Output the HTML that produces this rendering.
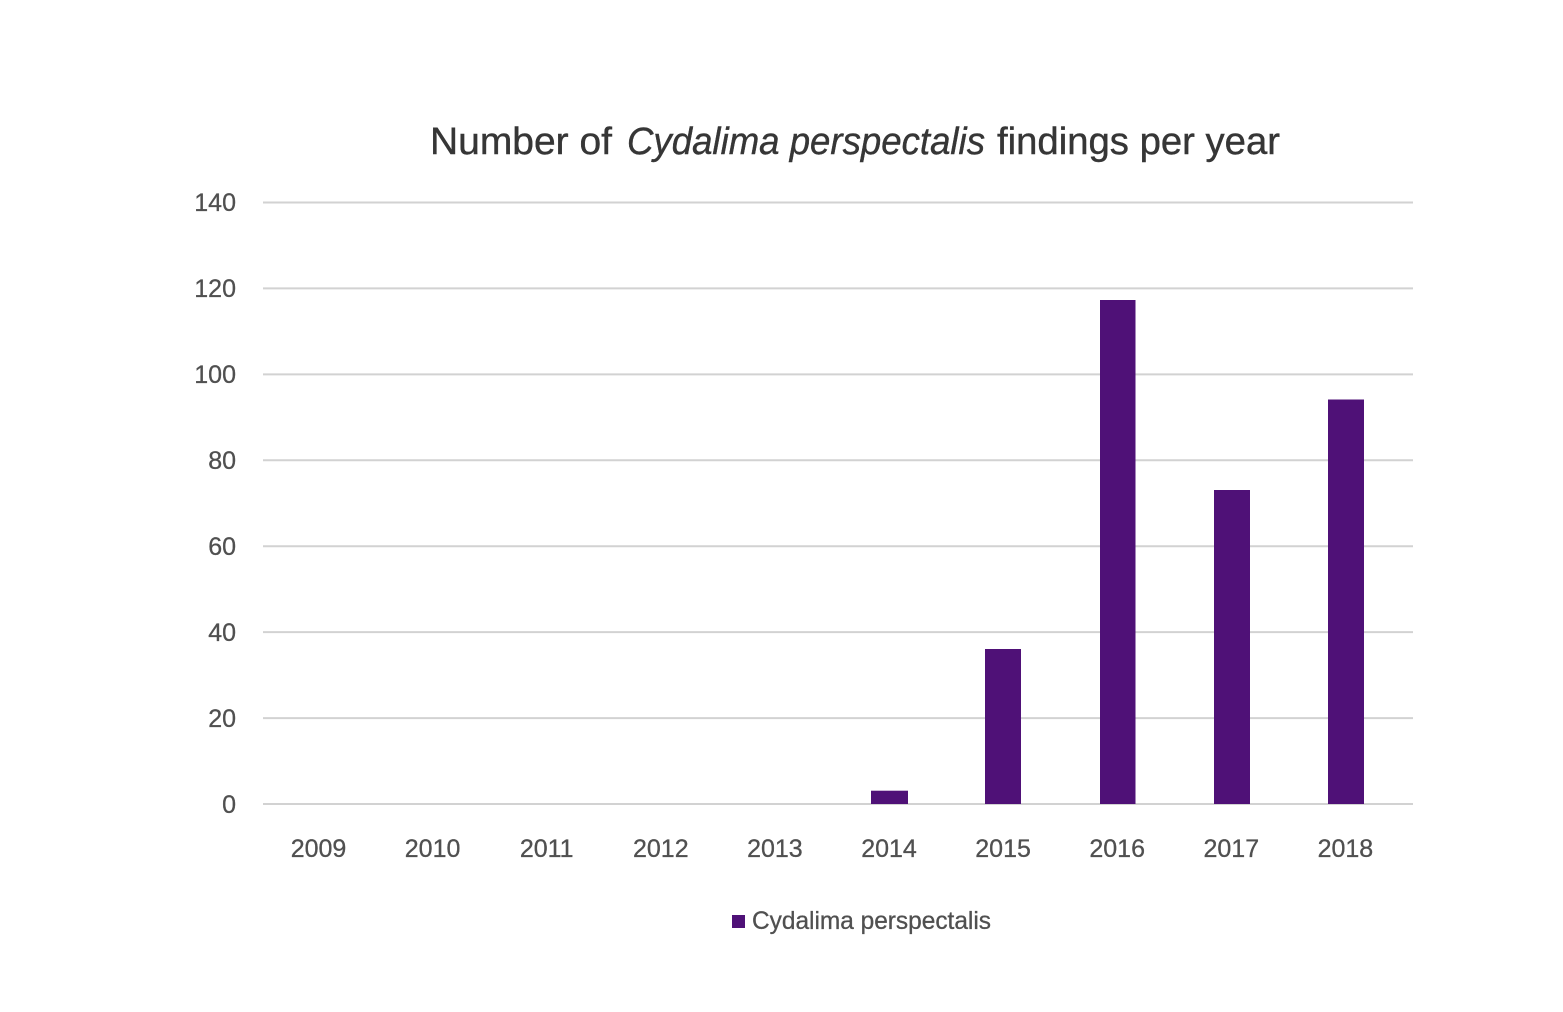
<!DOCTYPE html>
<html>
<head>
<meta charset="utf-8">
<style>
  html, body { margin: 0; padding: 0; background: #ffffff; }
  svg { display: block; }
</style>
</head>
<body>
<svg width="1563" height="1012" viewBox="0 0 1563 1012" xmlns="http://www.w3.org/2000/svg">
  <rect x="0" y="0" width="1563" height="1012" fill="#ffffff"/>

  <!-- Title -->
  <g font-family="'Liberation Sans', 'DejaVu Sans', sans-serif" font-size="38" fill="#363636" stroke="#363636" stroke-width="0.4">
    <text x="430" y="154" textLength="182" lengthAdjust="spacingAndGlyphs">Number of</text>
    <text x="627" y="154" textLength="358" lengthAdjust="spacingAndGlyphs" font-style="italic">Cydalima perspectalis</text>
    <text x="997" y="154" textLength="283" lengthAdjust="spacingAndGlyphs">findings per year</text>
  </g>

  <!-- Gridlines -->
  <g stroke="#d2d2d2" stroke-width="2">
    <line x1="263" y1="202.5" x2="1413" y2="202.5"/>
    <line x1="263" y1="288.4" x2="1413" y2="288.4"/>
    <line x1="263" y1="374.4" x2="1413" y2="374.4"/>
    <line x1="263" y1="460.3" x2="1413" y2="460.3"/>
    <line x1="263" y1="546.2" x2="1413" y2="546.2"/>
    <line x1="263" y1="632.1" x2="1413" y2="632.1"/>
    <line x1="263" y1="718.1" x2="1413" y2="718.1"/>
    <line x1="263" y1="804" x2="1413" y2="804"/>
  </g>

  <!-- Y tick labels -->
  <g font-family="'Liberation Sans', 'DejaVu Sans', sans-serif" font-size="25" fill="#505050" stroke="#505050" stroke-width="0.3" text-anchor="end">
    <text x="236" y="211">140</text>
    <text x="236" y="297">120</text>
    <text x="236" y="383">100</text>
    <text x="236" y="469">80</text>
    <text x="236" y="555">60</text>
    <text x="236" y="641">40</text>
    <text x="236" y="727">20</text>
    <text x="236" y="813">0</text>
  </g>

  <!-- Bars -->
  <g fill="#4f1177">
    <rect x="871" y="790.7" width="37" height="13.3"/>
    <rect x="985" y="649" width="36" height="155"/>
    <rect x="1100" y="300" width="35.5" height="504"/>
    <rect x="1214" y="490" width="36" height="314"/>
    <rect x="1328" y="399.5" width="36" height="404.5"/>
  </g>

  <!-- X labels -->
  <g font-family="'Liberation Sans', 'DejaVu Sans', sans-serif" font-size="25" fill="#505050" stroke="#505050" stroke-width="0.3" text-anchor="middle">
    <text x="318.5" y="857">2009</text>
    <text x="432.6" y="857">2010</text>
    <text x="546.7" y="857">2011</text>
    <text x="660.8" y="857">2012</text>
    <text x="774.9" y="857">2013</text>
    <text x="889" y="857">2014</text>
    <text x="1003.1" y="857">2015</text>
    <text x="1117.2" y="857">2016</text>
    <text x="1231.3" y="857">2017</text>
    <text x="1345.4" y="857">2018</text>
  </g>

  <!-- Legend -->
  <rect x="732" y="915" width="13" height="13" fill="#4f1177"/>
  <text x="752" y="929" font-family="'Liberation Sans', 'DejaVu Sans', sans-serif" font-size="25" fill="#505050" stroke="#505050" stroke-width="0.3" textLength="239" lengthAdjust="spacingAndGlyphs">Cydalima perspectalis</text>
</svg>
</body>
</html>
